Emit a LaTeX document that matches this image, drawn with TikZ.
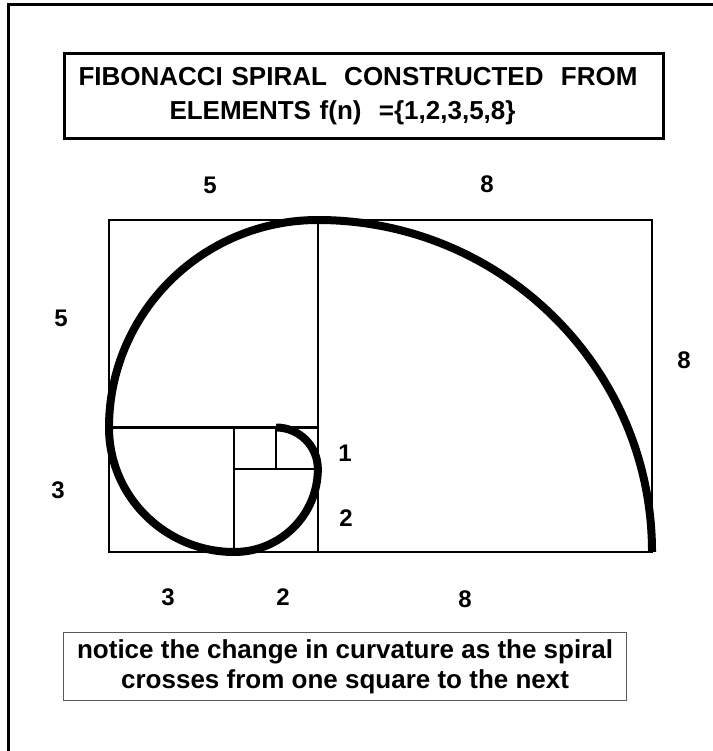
\documentclass[tikz,border=0pt]{standalone}
\usepackage{fontspec}
\setmainfont{Liberation Sans}
\newcommand{\fibx}{41.77}
\newcommand{\fiby}{41.5}
\begin{document}
\begin{tikzpicture}[x=1pt, y=-1pt,
    lbl/.style={font=\fontsize{24}{24}\selectfont\bfseries},
    sq/.style={line width=2.2pt},
    spiral/.style={line width=8pt},
    box/.style={draw, anchor=north west, inner sep=0pt}]
  \useasboundingbox (0,0) rectangle (712,751);
  \draw[line width=3pt] (8,770) -- (8,5) -- (730,5);
  \node[box, line width=3pt, minimum width=599pt, minimum height=85pt,
        inner xsep=14pt, text width=571pt, align=left,
        font=\fontsize{26}{34}\selectfont\bfseries] (title) at (63,52)
    {FIBONACCI SPIRAL\ \ CONSTRUCTED\ \ FROM\\\hspace*{91pt}ELEMENTS f(n)\ \ =\{1,2,3,5,8\}};
  \node[lbl] (top5) at (210,185) {5};
  \node[lbl] (top8) at (487,184) {8};
  \node[lbl] (left5) at (61,318) {5};
  \node[lbl] (right8) at (684,360) {8};
  \node[lbl] (left3) at (58,490) {3};
  \node[lbl] (in1) at (345,453) {1};
  \node[lbl] (in2) at (346,518) {2};
  \node[lbl] (bot3) at (168,597) {3};
  \node[lbl] (bot2) at (283,597) {2};
  \node[lbl] (bot8) at (465,599) {8};
  \begin{scope}[shift={(109,552)}, x=\fibx pt, y=\fiby pt]
    \draw[sq] (0,0) rectangle (13,8);
    \draw[sq] (5,0) -- (5,8) (0,3) -- (5,3) (3,0) -- (3,3) (3,2) -- (5,2) (4,2) -- (4,3);
    \draw[spiral] (4,3)
      arc[start angle=90, end angle=0, x radius=\fibx pt, y radius=\fiby pt]
      arc[start angle=0, end angle=-90, x radius=2*\fibx pt, y radius=2*\fiby pt]
      arc[start angle=-90, end angle=-180, x radius=3*\fibx pt, y radius=3*\fiby pt]
      arc[start angle=180, end angle=90, x radius=5*\fibx pt, y radius=5*\fiby pt]
      arc[start angle=90, end angle=0, x radius=8*\fibx pt, y radius=8*\fiby pt];
  \end{scope}
  \node[box, draw=black!65, line width=1.2pt, minimum width=563pt, minimum height=68pt,
        align=center, font=\fontsize{26}{30}\selectfont\bfseries] (note) at (63,632)
    {notice the change in curvature as the spiral\\crosses from one square to the next};
\end{tikzpicture}
\end{document}
